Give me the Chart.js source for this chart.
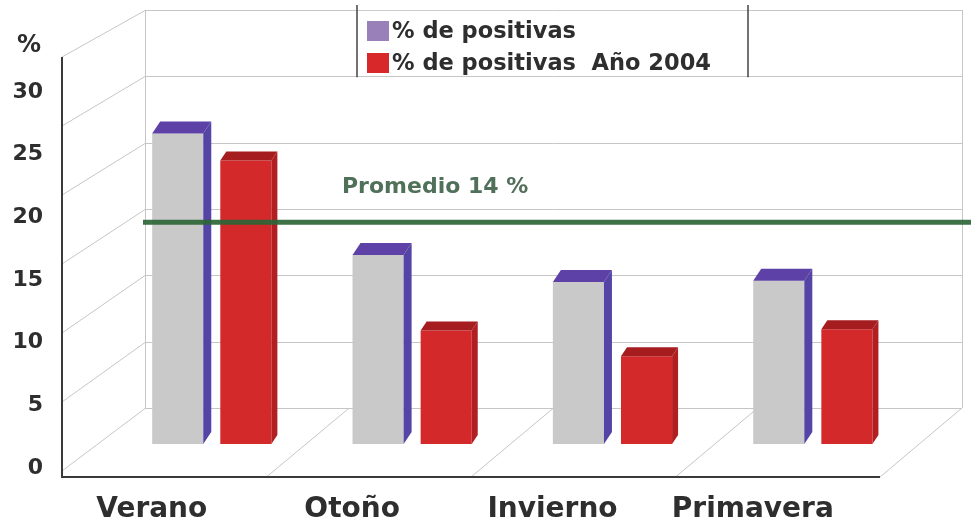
<!DOCTYPE html>
<html>
<head>
<meta charset="utf-8">
<script src="https://cdn.jsdelivr.net/npm/chart.js@4.4.1/dist/chart.umd.min.js"></script>
<style>
html,body{margin:0;padding:0;background:#fff;}
#wrap{width:971px;height:530px;position:relative;}
canvas{display:block;}
</style>
</head>
<body>
<div id="wrap"><canvas id="c" width="971" height="530"></canvas></div>
<script>
// ---------- data ----------
const categories = ['Verano', 'Otoño', 'Invierno', 'Primavera'];
const seriesNames = ['% de positivas', '% de positivas  Año 2004'];
const positivas = [23.0, 14.0, 12.0, 12.1];
const positivas2004 = [21.0, 8.4, 6.5, 8.5];
const yTicks = [0, 5, 10, 15, 20, 25, 30];
const promedio = 14;
const yUnit = '%';

// ---------- layout (pixels) ----------
const G = {
  areaTop: 92, areaBottom: 468, areaLeft: 111.6, areaRight: 913,
  barZero: 444, barPx: 13.5,      // bar plane
  wallZero: 408, wallPx: 13.27,   // back wall
  frontZero: 471, frontPx: 13.8,  // front edge of left wall
  backLeft: 145, backRight: 962,
  frontLeft: 62, frontRight: 880, floorFront: 477
};
function rangeFor(zero, px) {
  return { min: -(G.areaBottom - zero) / px, max: (zero - G.areaTop) / px };
}
const FONT = 'DejaVu Sans';
const colors = {
  grayFront: '#c9c9c9', grayTop: '#5e41a6', graySide: '#5344a6',
  redFront: '#d3292b', redTop: '#a51d1f', redSide: '#b21f22',
  swatch1: '#9a80b8', swatch2: '#d8282a',
  grid: '#c6c6c6', axis: '#3a3a3a', text: '#2e2e2e',
  green: '#2d6536', greenText: '#50705a'
};

const walls = {
  id: 'walls',
  beforeDatasetsDraw(chart) {
    const ctx = chart.ctx, yw = chart.scales.yw, yf = chart.scales.yf;
    ctx.save();
    ctx.strokeStyle = colors.grid; ctx.lineWidth = 1;
    const top = yw.getPixelForValue(yTicks[yTicks.length - 1]);
    const bot = yw.getPixelForValue(0);
    ctx.beginPath();
    ctx.moveTo(G.backLeft + 0.5, top); ctx.lineTo(G.backLeft + 0.5, bot);
    ctx.moveTo(G.backRight + 0.5, top); ctx.lineTo(G.backRight + 0.5, bot);
    ctx.stroke();
    yTicks.forEach(v => {
      const yb = Math.round(yw.getPixelForValue(v)) + 0.5;
      const yfr = yf.getPixelForValue(v);
      ctx.beginPath();
      ctx.moveTo(G.backLeft, yb); ctx.lineTo(G.backRight, yb);
      ctx.moveTo(G.frontLeft, yfr); ctx.lineTo(G.backLeft, yb);
      ctx.stroke();
    });
    const n = categories.length;
    for (let i = 1; i <= n; i++) {
      const fx = G.frontLeft + i * (G.frontRight - G.frontLeft) / n;
      const bx = G.backLeft + i * (G.backRight - G.backLeft) / n;
      ctx.beginPath();
      ctx.moveTo(fx, G.floorFront); ctx.lineTo(bx, bot);
      ctx.stroke();
    }
    ctx.strokeStyle = colors.axis; ctx.lineWidth = 2;
    ctx.beginPath();
    ctx.moveTo(G.frontLeft, yf.getPixelForValue(yTicks[yTicks.length - 1]));
    ctx.lineTo(G.frontLeft, G.floorFront);
    ctx.lineTo(G.frontRight, G.floorFront);
    ctx.stroke();
    ctx.restore();
  }
};

const faces = {
  id: 'faces',
  afterDatasetsDraw(chart) {
    const ctx = chart.ctx;
    const spec = [
      { dx: 8, dy: 12, top: colors.grayTop, side: colors.graySide },
      { dx: 6, dy: 9, top: colors.redTop, side: colors.redSide }
    ];
    chart.data.datasets.forEach((ds, di) => {
      const meta = chart.getDatasetMeta(di);
      const s = spec[di];
      meta.data.forEach(bar => {
        const p = bar.getProps(['x', 'y', 'base', 'width'], true);
        const l = p.x - p.width / 2, r = p.x + p.width / 2;
        ctx.save();
        ctx.fillStyle = s.side;
        ctx.beginPath();
        ctx.moveTo(r, p.y); ctx.lineTo(r + s.dx, p.y - s.dy);
        ctx.lineTo(r + s.dx, p.base - s.dy); ctx.lineTo(r, p.base);
        ctx.closePath(); ctx.fill();
        ctx.fillStyle = s.top;
        ctx.beginPath();
        ctx.moveTo(l, p.y); ctx.lineTo(l + s.dx, p.y - s.dy);
        ctx.lineTo(r + s.dx, p.y - s.dy); ctx.lineTo(r, p.y);
        ctx.closePath(); ctx.fill();
        ctx.restore();
      });
    });
    const yw = chart.scales.yw;
    const y = yw.getPixelForValue(promedio);
    ctx.save();
    ctx.strokeStyle = colors.green; ctx.globalAlpha = 0.92; ctx.lineWidth = 5;
    ctx.beginPath(); ctx.moveTo(G.backLeft - 2, y); ctx.lineTo(chart.width, y); ctx.stroke();
    ctx.restore();
  }
};

const overlay = {
  id: 'overlay',
  afterDraw(chart) {
    const ctx = chart.ctx;
    const yw = chart.scales.yw;
    ctx.save();
    ctx.fillStyle = colors.greenText;
    ctx.font = 'bold 22px "' + FONT + '"';
    ctx.textBaseline = 'alphabetic'; ctx.textAlign = 'left';
    ctx.fillText('Promedio ' + promedio + ' %', 342, yw.getPixelForValue(promedio) - 29);
    ctx.fillStyle = colors.text;
    ctx.font = 'bold 24px "' + FONT + '"';
    ctx.textAlign = 'center'; ctx.textBaseline = 'middle';
    ctx.fillText(yUnit, 29, 46);
    const t = yw.getPixelForValue(30), b = yw.getPixelForValue(25);
    ctx.fillStyle = '#fff';
    ctx.fillRect(358, t + 1, 389, b - t - 2);
    ctx.strokeStyle = '#444'; ctx.lineWidth = 1.5;
    ctx.beginPath();
    ctx.moveTo(357, t - 5); ctx.lineTo(357, b + 1);
    ctx.moveTo(748, t - 5); ctx.lineTo(748, b + 1);
    ctx.stroke();
    const sw = [colors.swatch1, colors.swatch2];
    ctx.font = 'bold 22.5px "' + FONT + '"';
    ctx.textAlign = 'left'; ctx.textBaseline = 'alphabetic';
    chart.data.datasets.forEach((ds, i) => {
      const yy = 21 + i * 32;
      ctx.fillStyle = sw[i];
      ctx.fillRect(367, yy, 22, 20);
      ctx.fillStyle = colors.text;
      ctx.fillText(ds.label, 392, yy + 17);
    });
    ctx.restore();
  }
};

const rb = rangeFor(G.barZero, G.barPx);
const rw = rangeFor(G.wallZero, G.wallPx);
const rf = rangeFor(G.frontZero, G.frontPx);

new Chart(document.getElementById('c'), {
  type: 'bar',
  data: {
    labels: categories,
    datasets: [
      { label: seriesNames[0], data: positivas, backgroundColor: colors.grayFront,
        yAxisID: 'yb', categoryPercentage: 0.68, barPercentage: 0.75, borderWidth: 0 },
      { label: seriesNames[1], data: positivas2004, backgroundColor: colors.redFront,
        yAxisID: 'yb', categoryPercentage: 0.68, barPercentage: 0.75, borderWidth: 0 }
    ]
  },
  options: {
    responsive: false,
    animation: false,
    devicePixelRatio: 1,
    layout: { padding: { top: G.areaTop, right: 971 - G.areaRight, left: 0, bottom: 0 } },
    plugins: { legend: { display: false }, tooltip: { enabled: false } },
    scales: {
      x: {
        position: 'bottom',
        grid: { display: false, drawTicks: false },
        border: { display: false },
        ticks: { font: { family: FONT, weight: 'bold', size: 28 }, color: colors.text,
                 padding: 25, labelOffset: -60, maxRotation: 0, autoSkip: false },
        afterFit(s) { s.height = 530 - G.areaBottom; s.paddingLeft = 0; s.paddingRight = 0; }
      },
      y: {
        position: 'left', min: 0, max: 30,
        grid: { display: false, drawTicks: false },
        border: { display: false },
        afterBuildTicks(s) { s.ticks = yTicks.map(v => ({ value: v })); },
        ticks: { font: { family: FONT, weight: 'bold', size: 22 }, color: colors.text, padding: 68.6 },
        afterFit(s) { s.width = G.areaLeft; s.paddingTop = 0; s.paddingBottom = 0; }
      },
      yb: { display: false, min: rb.min, max: rb.max },
      yw: { display: false, min: rw.min, max: rw.max },
      yf: { display: false, min: rf.min, max: rf.max }
    }
  },
  plugins: [walls, faces, overlay]
});
</script>
</body>
</html>
